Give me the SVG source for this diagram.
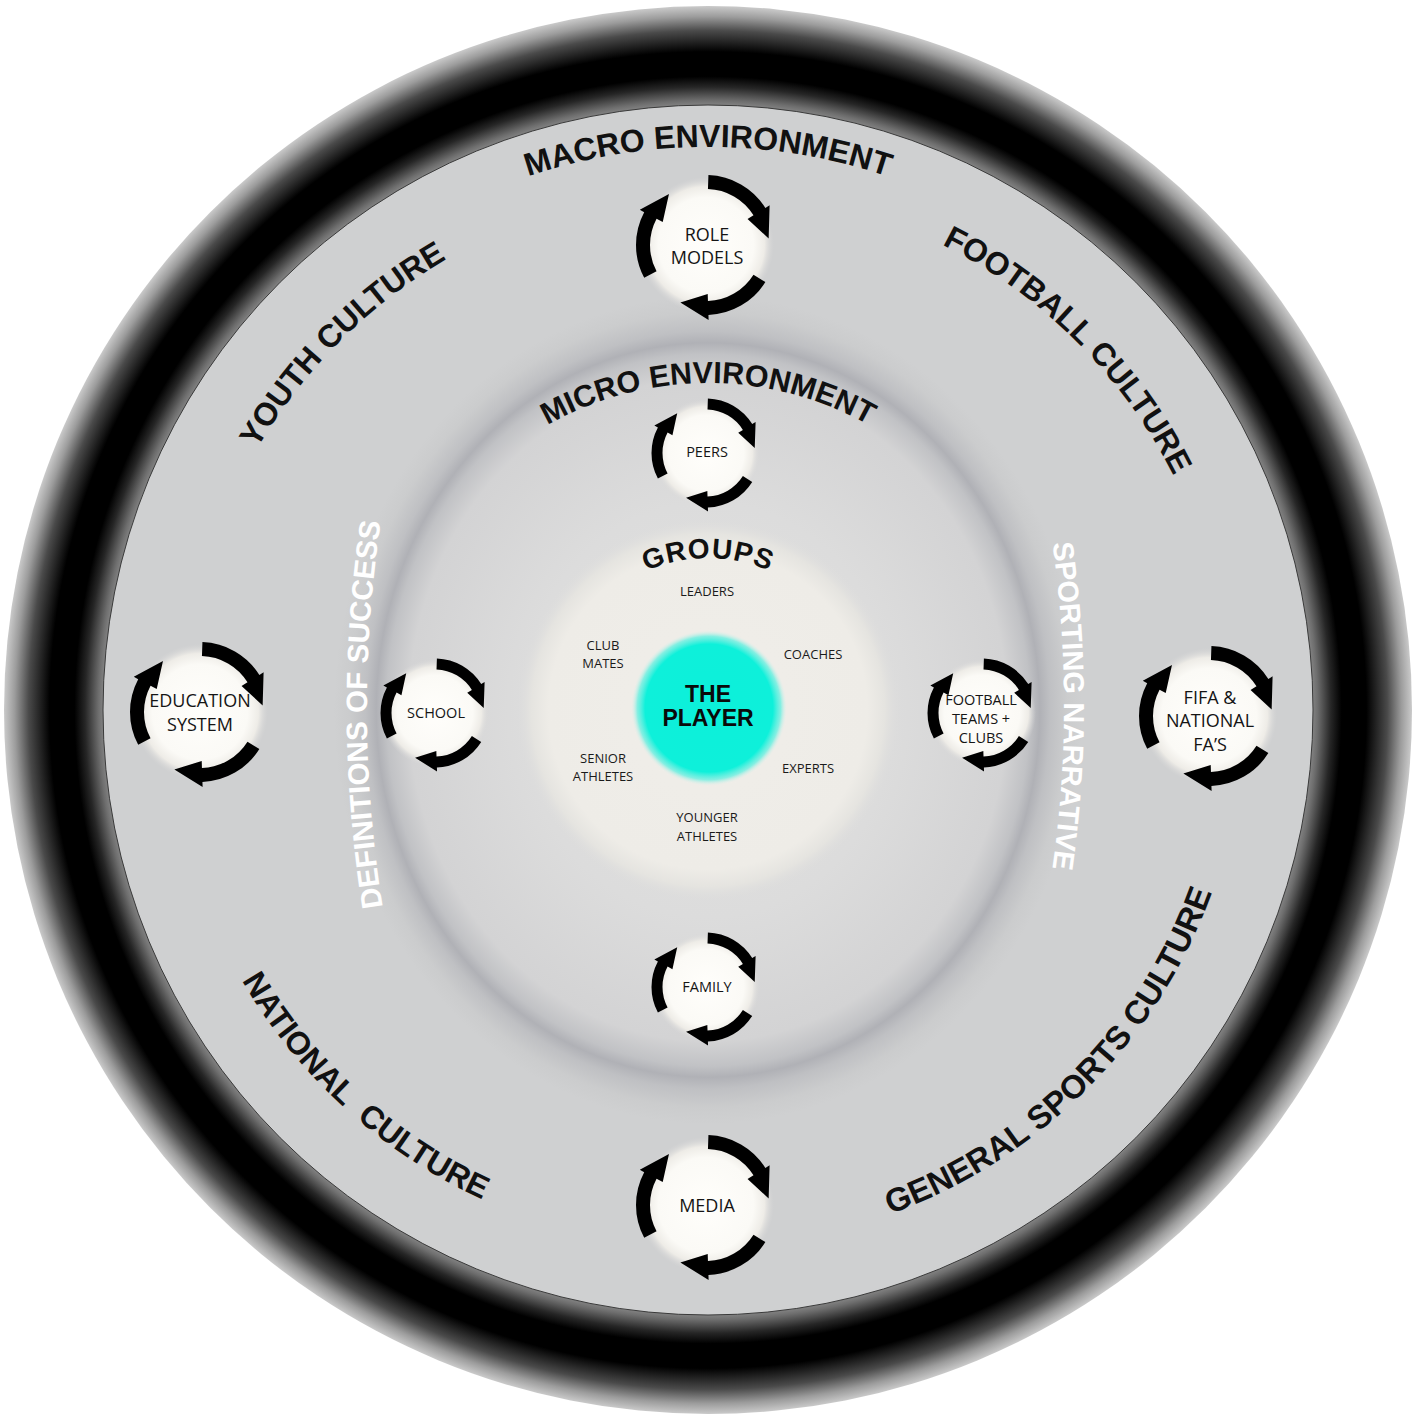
<svg xmlns="http://www.w3.org/2000/svg" xmlns:xlink="http://www.w3.org/1999/xlink" width="1418" height="1418" viewBox="0 0 1418 1418">
<style>
.arc{font-family:"Liberation Sans",Arial,sans-serif;font-weight:bold;fill:#111;text-anchor:middle}
.wht{fill:#ffffff}
.nt{font-family:"Open Sans","Liberation Sans",sans-serif;fill:#151515;text-anchor:middle}
.big{font-size:18px}
.sm{font-size:14.5px}
.gl{font-family:"Open Sans","Liberation Sans",sans-serif;font-size:13px;fill:#1a1a1a;text-anchor:middle}
.player{font-family:"Liberation Sans",Arial,sans-serif;font-weight:bold;font-size:23px;fill:#0a0a0a;text-anchor:middle}
.arrow{fill:#000}
</style>
<defs>
<radialGradient id="gRing" gradientUnits="userSpaceOnUse" cx="708" cy="710" r="704">
<stop offset="0" stop-color="#cccccc"/>
<stop offset="0.855" stop-color="#8e8e8e"/>
<stop offset="0.866" stop-color="#6e6e6e"/>
<stop offset="0.885" stop-color="#262626"/>
<stop offset="0.9" stop-color="#000"/>
<stop offset="0.935" stop-color="#000"/>
<stop offset="0.965" stop-color="#4a4a4a"/>
<stop offset="0.985" stop-color="#9c9c9c"/>
<stop offset="1" stop-color="#cacaca"/>
</radialGradient>
<radialGradient id="gMicro">
<stop offset="0" stop-color="#e3e3e2"/>
<stop offset="0.5" stop-color="#dcdcdc"/>
<stop offset="0.8" stop-color="#d3d3d4"/>
<stop offset="0.86" stop-color="#c1c2c5"/>
<stop offset="0.887" stop-color="#b0b1b6"/>
<stop offset="0.915" stop-color="#bfc0c3"/>
<stop offset="0.96" stop-color="#cbcccd"/>
<stop offset="1" stop-color="#cfd0d1"/>
</radialGradient>
<radialGradient id="gGroups">
<stop offset="0" stop-color="#f0eee9"/>
<stop offset="0.83" stop-color="#eeece7"/>
<stop offset="0.92" stop-color="#e5e4e0"/>
<stop offset="1" stop-color="#dcdcdc" stop-opacity="0"/>
</radialGradient>
<radialGradient id="gPlayer">
<stop offset="0" stop-color="#0cf0da"/>
<stop offset="0.82" stop-color="#0ef0da"/>
<stop offset="0.92" stop-color="#3ef0de" stop-opacity="0.6"/>
<stop offset="1" stop-color="#e0f0ec" stop-opacity="0"/>
</radialGradient>
<radialGradient id="gNode">
<stop offset="0" stop-color="#fffefb"/>
<stop offset="0.7" stop-color="#fbfaf6"/>
<stop offset="0.86" stop-color="#eeece7"/>
<stop offset="1" stop-color="#d8d8d8" stop-opacity="0"/>
</radialGradient>
<path id="arrowBig" class="arrow" d="M 2.44,-69.96 A 70 70 0 0 1 59.36,-37.09 L 63.60,-39.74 L 62.65,-6.58 L 41.55,-25.97 L 47.49,-29.67 A 56 56 0 0 0 1.95,-55.97 Z"/>
<path id="arrowSmall" class="arrow" d="M 1.90,-54.47 A 54.5 54.5 0 0 1 46.22,-28.88 L 49.61,-31.00 L 48.73,-5.12 L 32.22,-20.14 L 36.89,-23.05 A 43.5 43.5 0 0 0 1.52,-43.47 Z"/>
<g id="cycleBig">
<circle r="68" fill="url(#gNode)"/>
<use xlink:href="#arrowBig"/>
<use xlink:href="#arrowBig" transform="rotate(120)"/>
<use xlink:href="#arrowBig" transform="rotate(240)"/>
</g>
<g id="cycleSmall">
<circle r="54" fill="url(#gNode)"/>
<use xlink:href="#arrowSmall"/>
<use xlink:href="#arrowSmall" transform="rotate(120)"/>
<use xlink:href="#arrowSmall" transform="rotate(240)"/>
</g>
<path id="pMacro" d="M 220.4,428.5 A 563 563 0 0 1 1195.6,428.5"/>
<path id="pMicro" d="M 424.8,546.5 A 327 327 0 0 1 991.2,546.5"/>
<path id="pGroups" d="M 576.4,634 A 152 152 0 0 1 839.6,634"/>
<path id="pYouth" d="M 187,710 A 521 521 0 0 1 708,189"/>
<path id="pFootball" d="M 708,189 A 521 521 0 0 1 1229,710"/>
<path id="pNational" d="M 169,710 A 539 539 0 0 0 708,1249"/>
<path id="pGeneral" d="M 708,1246 A 536 536 0 0 0 1244,710"/>
<path id="pDefs" d="M 409.8,1033.6 A 1258 1258 0 0 1 409.8,382.4"/>
<path id="pSport" d="M 1024.8,408.6 A 1149 1149 0 0 1 1024.8,1003.4"/>
</defs>

<rect width="1418" height="1418" fill="#ffffff"/>

<g id="rings">
<circle cx="708" cy="710" r="704" fill="url(#gRing)"/>
<circle cx="708" cy="710" r="605" fill="#cfd0d1" stroke="#3a3a3a" stroke-width="1"/>
<ellipse cx="708" cy="710" rx="374" ry="414" fill="url(#gMicro)"/>
<circle cx="708" cy="710" r="192" fill="url(#gGroups)"/>
</g>

<g id="ring-labels">
<text class="arc" font-size="32"><textPath xlink:href="#pMacro" startOffset="50%">MACRO ENVIRONMENT</textPath></text>
<text class="arc" font-size="30.5"><textPath xlink:href="#pMicro" startOffset="50%">MICRO ENVIRONMENT</textPath></text>
<text class="arc" font-size="28" letter-spacing="1"><textPath xlink:href="#pGroups" startOffset="50%">GROUPS</textPath></text>
<text class="arc" font-size="32"><textPath xlink:href="#pYouth" startOffset="50%">YOUTH CULTURE</textPath></text>
<text class="arc" font-size="32"><textPath xlink:href="#pFootball" startOffset="50%">FOOTBALL CULTURE</textPath></text>
<text class="arc" font-size="32" xml:space="preserve"><textPath xlink:href="#pNational" startOffset="53%">NATIONAL  CULTURE</textPath></text>
<text class="arc" font-size="33"><textPath xlink:href="#pGeneral" startOffset="50%">GENERAL SPORTS CULTURE</textPath></text>
<text class="arc wht" font-size="29.5"><textPath xlink:href="#pDefs" startOffset="49%">DEFINITIONS OF SUCCESS</textPath></text>
<text class="arc wht" font-size="29"><textPath xlink:href="#pSport" startOffset="50%">SPORTING NARRATIVE</textPath></text>
</g>

<g id="connectors"/>

<g id="node-player">
<circle cx="709" cy="708" r="78" fill="url(#gPlayer)"/>
<text class="player" x="708" y="702">THE</text>
<text class="player" x="708" y="726">PLAYER</text>
</g>

<g id="group-labels">
<text class="gl" x="707" y="596">LEADERS</text>
<text class="gl" x="603" y="650">CLUB</text>
<text class="gl" x="603" y="668">MATES</text>
<text class="gl" x="813" y="659">COACHES</text>
<text class="gl" x="603" y="763">SENIOR</text>
<text class="gl" x="603" y="781">ATHLETES</text>
<text class="gl" x="808" y="773">EXPERTS</text>
<text class="gl" x="707" y="822">YOUNGER</text>
<text class="gl" x="707" y="841">ATHLETES</text>
</g>

<g id="node-role-models" transform="translate(706,245)">
<use xlink:href="#cycleBig"/>
<text class="nt big" x="1" y="-4">ROLE</text>
<text class="nt big" x="1" y="19">MODELS</text>
</g>

<g id="node-education-system" transform="translate(200,712)">
<use xlink:href="#cycleBig"/>
<text class="nt big" x="0" y="-5">EDUCATION</text>
<text class="nt big" x="0" y="19">SYSTEM</text>
</g>

<g id="node-fifa" transform="translate(1209,716)">
<use xlink:href="#cycleBig"/>
<text class="nt big" x="1" y="-12">FIFA &amp;</text>
<text class="nt big" x="1" y="11">NATIONAL</text>
<text class="nt big" x="1" y="35">FA’S</text>
</g>

<g id="node-media" transform="translate(706,1205)">
<use xlink:href="#cycleBig"/>
<text class="nt big" x="1" y="7">MEDIA</text>
</g>

<g id="node-peers" transform="translate(706,453)">
<use xlink:href="#cycleSmall"/>
<text class="nt sm" x="1" y="4">PEERS</text>
</g>

<g id="node-school" transform="translate(435,713)">
<use xlink:href="#cycleSmall"/>
<text class="nt sm" x="1" y="5">SCHOOL</text>
</g>

<g id="node-football-teams" transform="translate(982,713)">
<use xlink:href="#cycleSmall"/>
<text class="nt sm" x="-1" y="-8">FOOTBALL</text>
<text class="nt sm" x="-1" y="11">TEAMS +</text>
<text class="nt sm" x="-1" y="30">CLUBS</text>
</g>

<g id="node-family" transform="translate(706,987)">
<use xlink:href="#cycleSmall"/>
<text class="nt sm" x="1" y="5">FAMILY</text>
</g>
</svg>
